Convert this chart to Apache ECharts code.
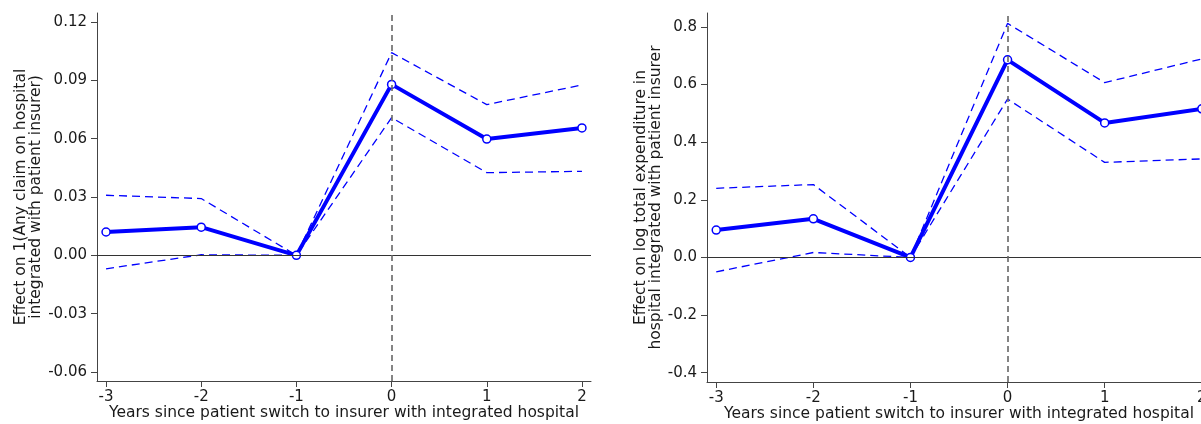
<!DOCTYPE html>
<html>
<head>
<meta charset="utf-8">
<script src="https://cdn.jsdelivr.net/npm/echarts@6/dist/echarts.min.js"></script>
<style>
  html, body { margin: 0; padding: 0; background: #fff; }
  #chart { width: 1201px; height: 424px; }
</style>
</head>
<body>
<div id="chart"></div>
<script>
// Event-time axis (years relative to the switch)
const years = [-3, -2, -1, 0, 1, 2];

// Left panel: effect on 1(any claim on integrated hospital)
const claimEst   = [0.0120, 0.0145, 0, 0.0879, 0.0598, 0.0655];
const claimUpper = [0.0309, 0.0292, 0, 0.1042, 0.0775, 0.0876];
const claimLower = [-0.0069, 0.0003, 0, 0.0708, 0.0425, 0.0432];
const claimTicks = [-0.06, -0.03, 0, 0.03, 0.06, 0.09, 0.12];

// Right panel: effect on log total expenditure in integrated hospital
const spendEst   = [0.095, 0.134, 0, 0.686, 0.467, 0.516];
const spendUpper = [0.240, 0.253, 0, 0.8125, 0.607, 0.689];
const spendLower = [-0.050, 0.017, 0, 0.550, 0.330, 0.342];
const spendTicks = [-0.4, -0.2, 0, 0.2, 0.4, 0.6, 0.8];

const xTitle = 'Years since patient switch to insurer with integrated hospital';
const FONT = 'DejaVu Sans';
const BLUE = '#0000ff';
const INK = '#1a1a1a';

function pairs(vals) { return years.map((x, i) => [x, vals[i]]); }

function xAxisFor(gridIndex) {
  return {
    type: 'value', gridIndex,
    min: -3.095, max: 2.095,
    name: xTitle, nameLocation: 'middle', nameGap: 24, nameMoveOverlap: false,
    nameTextStyle: { fontFamily: FONT, fontSize: 15.5, color: INK, verticalAlign: 'top' },
    axisLine: { onZero: false, lineStyle: { color: '#444', width: 1 } },
    axisTick: { show: true, length: 6, customValues: years, lineStyle: { color: '#444' } },
    axisLabel: { customValues: years, margin: 9, fontFamily: FONT, fontSize: 15, color: INK },
    splitLine: { show: false }
  };
}

function yAxisFor(gridIndex, min, max, ticks, digits, title, gap) {
  return {
    type: 'value', gridIndex, min, max,
    name: title, nameLocation: 'middle', nameRotate: 90, nameGap: gap, nameMoveOverlap: false,
    nameTextStyle: { fontFamily: FONT, fontSize: 15.5, color: INK, lineHeight: 15 },
    axisLine: { show: true, onZero: false, lineStyle: { color: '#444', width: 1 } },
    axisTick: { show: true, length: 6, customValues: ticks, lineStyle: { color: '#444' } },
    axisLabel: {
      customValues: ticks, margin: 10, fontFamily: FONT, fontSize: 15, color: INK,
      formatter: v => v.toFixed(digits)
    },
    splitLine: { show: false }
  };
}

function ciSeries(idx, vals) {
  return {
    type: 'line', xAxisIndex: idx, yAxisIndex: idx,
    data: pairs(vals), symbol: 'none', silent: true, z: 2,
    lineStyle: { color: BLUE, width: 1.3, type: [8, 5] }
  };
}

function estSeries(idx, vals) {
  return {
    type: 'line', xAxisIndex: idx, yAxisIndex: idx,
    data: pairs(vals), symbol: 'circle', symbolSize: 8, z: 4,
    lineStyle: { color: BLUE, width: 4 },
    itemStyle: { color: '#fff', borderColor: BLUE, borderWidth: 1.5 }
  };
}

function refLines(idx) {
  return {
    type: 'line', xAxisIndex: idx, yAxisIndex: idx, data: [], z: 1,
    markLine: {
      silent: true, symbol: 'none', label: { show: false },
      data: [
        { yAxis: 0, lineStyle: { color: '#333', width: 1, type: 'solid' } },
        { xAxis: 0, lineStyle: { color: '#666', width: 1.6, type: [6, 4] } }
      ]
    }
  };
}

const chart = echarts.init(document.getElementById('chart'), null, { renderer: 'canvas' });
chart.setOption({
  animation: false,
  backgroundColor: '#fff',
  grid: [
    { left: 97, top: 13, right: 610, bottom: 43, outerBoundsMode: 'none', containLabel: false },
    { left: 707, top: 13, right: -10, bottom: 42, outerBoundsMode: 'none', containLabel: false }
  ],
  xAxis: [xAxisFor(0), xAxisFor(1)],
  yAxis: [
    yAxisFor(0, -0.0646, 0.1246, claimTicks, 2,
      'Effect on 1(Any claim on hospital\nintegrated with patient insurer)', 54),
    yAxisFor(1, -0.4326, 0.8486, spendTicks, 1,
      'Effect on log total expenditure in\nhospital integrated with patient insurer', 44)
  ],
  series: [
    refLines(0), ciSeries(0, claimUpper), ciSeries(0, claimLower), estSeries(0, claimEst),
    refLines(1), ciSeries(1, spendUpper), ciSeries(1, spendLower), estSeries(1, spendEst)
  ]
});
</script>
</body>
</html>
